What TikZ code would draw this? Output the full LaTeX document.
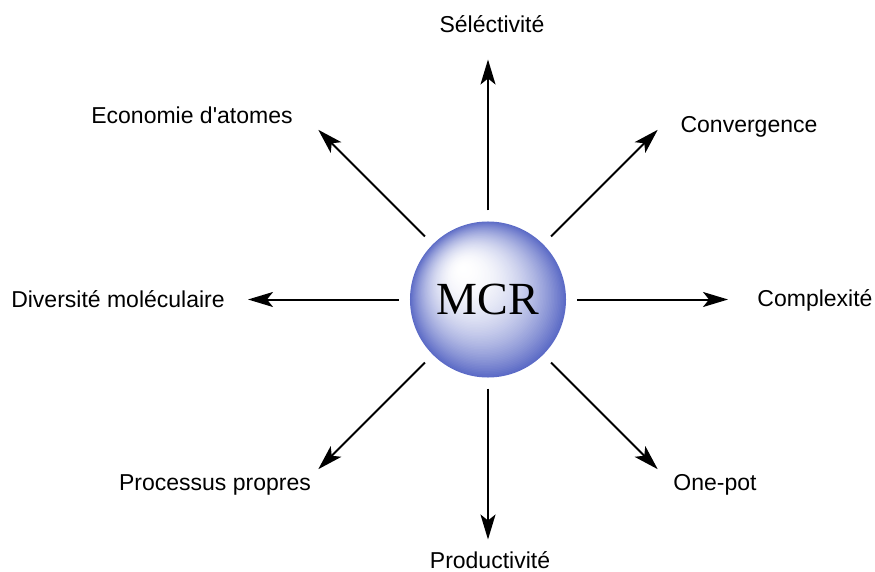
\documentclass[tikz,border=0pt]{standalone}
\usepackage{fontspec}
\setmainfont{Liberation Sans}
\newfontfamily\serifmcr{Liberation Serif}
\usetikzlibrary{arrows.meta,calc}
\definecolor{sphD}{RGB}{92,107,198}
\tikzset{
  arr/.style={line width=2bp, -{Stealth[length=25bp,width=15bp,inset=6bp]}, shorten <=11bp},
  lbl/.style={anchor=base, inner sep=0pt, font=\fontsize{23bp}{27bp}\selectfont},
  mcrnode/.style={circle, minimum size=156bp, inner sep=0pt, draw=none,
      font=\serifmcr\fontsize{46bp}{50bp}\selectfont},
}
\begin{document}
\begin{tikzpicture}[x=1bp,y=-1bp]
\useasboundingbox (0,0) rectangle (875,572);
\coordinate (c) at (488,299.5);
% layered sphere shading
\foreach \i in {0,...,70} {
  \pgfmathsetmacro{\s}{1-\i/70}
  \pgfmathsetmacro{\p}{100*(\s^2.1)}
  \pgfmathsetmacro{\ox}{-26*(1-\s)}
  \pgfmathsetmacro{\oy}{-32*(1-\s)}
  \pgfmathsetmacro{\rr}{78*\s+0.01}
  \fill[sphD!\p!white] ($(c)+(\ox,\oy)$) circle[radius=\rr];
}
\node[mcrnode] (mcr) at (c) {MCR};
\foreach \n/\a in {up/90, ne/45, rt/0, se/-45, dn/-90, sw/-135, lf/180, nw/135} {
  \coordinate (t\n) at ($(mcr.center)+(\a:240bp)$);
}
\node[lbl] (l1) at (492,33) {Séléctivité};
\node[lbl] (l2) at (749,133) {Convergence};
\node[lbl] (l3) at (815,306) {Complexité};
\node[lbl] (l4) at (715,490) {One-pot};
\node[lbl] (l5) at (490,568) {Productivité};
\node[lbl] (l6) at (215,490) {Processus propres};
\node[lbl] (l7) at (118,307) {Diversité moléculaire};
\node[lbl] (l8) at (192,124) {Economie d\textquotesingle atomes};
\foreach \n in {up,ne,rt,se,dn,sw,lf,nw} {
  \draw[arr] (mcr) -- (t\n);
}
\end{tikzpicture}
\end{document}
